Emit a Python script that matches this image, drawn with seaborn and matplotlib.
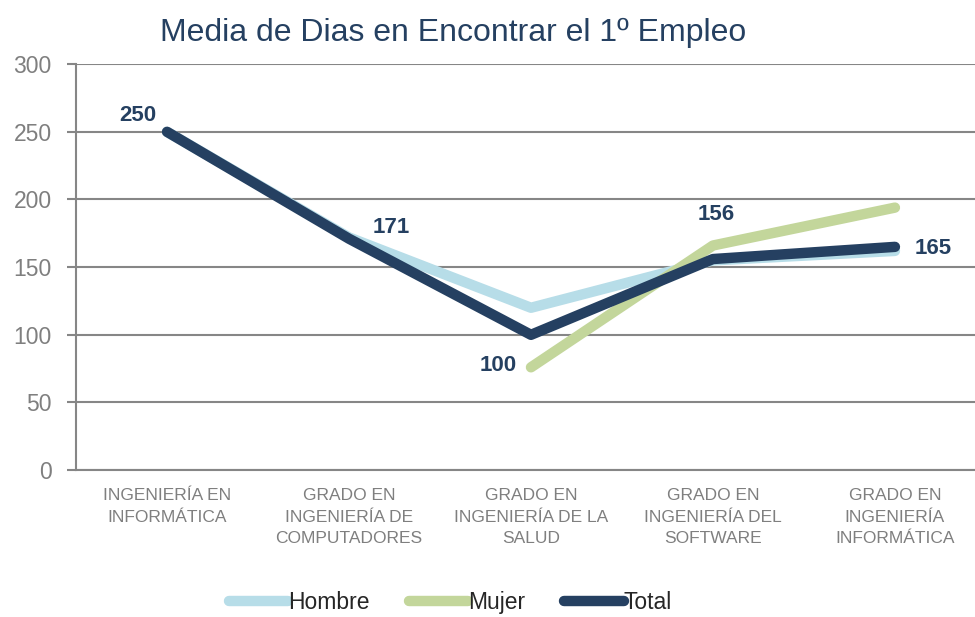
import pandas as pd
import numpy as np
import matplotlib
matplotlib.use("Agg")
import matplotlib.pyplot as plt
import seaborn as sns

# Datos
categorias = ["INGENIERÍA EN\nINFORMÁTICA", "GRADO EN\nINGENIERÍA DE\nCOMPUTADORES",
              "GRADO EN\nINGENIERÍA DE LA\nSALUD", "GRADO EN\nINGENIERÍA DEL\nSOFTWARE",
              "GRADO EN\nINGENIERÍA\nINFORMÁTICA"]
hombre = [250, 172, 120, 155, 162]
mujer = [np.nan, np.nan, 76, 166, 194]
total = [250, 171, 100, 156, 165]
series = ["Hombre", "Mujer", "Total"]
colores = ["#B7DDE8", "#C3D69B", "#254061"]

sns.set_theme(style="white")
plt.rcParams["font.family"] = ["Liberation Sans Narrow", "Liberation Sans", "DejaVu Sans"]

df = pd.DataFrame({
    "x": list(range(5)) * 3,
    "Dias": hombre + mujer + total,
    "Serie": [s for s in series for _ in range(5)],
})

fig = plt.figure(figsize=(9.75, 6.17), dpi=100)
ax = fig.add_axes([0.078, 0.238, 0.922, 0.658])

for y in range(0, 301, 50):
    ax.axhline(y, color="#868686", lw=1.5, zorder=0)

sns.lineplot(data=df, x="x", y="Dias", hue="Serie", palette=colores,
             linewidth=7.5, solid_capstyle="round", ax=ax, legend=False, sort=False)

# Etiquetas de datos del total
offsets = [(-8, 12, "right"), (17, 8, "left"), (-10, -22, "right"), (2, 32, "center"), (14, -1, "left")]
for i, (v, (dx, dy, ha)) in enumerate(zip(total, offsets)):
    ax.annotate(str(v), (i, v), xytext=(dx, dy), textcoords="offset points",
                ha=ha, va="center", fontsize=16, fontweight="bold", color="#254061")

ax.set_ylim(0, 300)
ax.set_xlim(-0.5, 4.44)
ax.set_yticks(range(0, 301, 50))
ax.set_xticks(range(5))
ax.set_xticklabels(categorias)
ax.set_xticks(np.arange(-0.5, 4.5, 1), minor=True)
ax.tick_params(axis="x", which="major", length=0, pad=13, labelsize=12.5, labelcolor="#7F7F7F")
ax.tick_params(axis="x", which="minor", length=6, color="#868686", width=1.5, direction="out")
ax.tick_params(axis="y", length=6.5, color="#868686", width=1.5, labelsize=16.5,
               labelcolor="#7F7F7F", left=True, pad=11)
for lbl in ax.get_xticklabels():
    lbl.set_linespacing(1.55)
ax.set_xlabel("")
ax.set_ylabel("")
for s in ["top", "right"]:
    ax.spines[s].set_visible(False)
ax.spines["left"].set_color("#868686")
ax.spines["left"].set_linewidth(1.5)
ax.spines["bottom"].set_color("#868686")
ax.spines["bottom"].set_linewidth(1.5)

fig.text(0.465, 0.947, "Media de Dias en Encontrar el 1º Empleo", ha="center", va="center",
         fontsize=23, color="#254061")

handles = [plt.Line2D([0], [0], color=c, lw=7.5, solid_capstyle="round") for c in colores]
fig.legend(handles, series, loc="center", bbox_to_anchor=(0.462, 0.024), ncol=3, frameon=False,
           handlelength=2.6, handletextpad=0.0, columnspacing=1.7, fontsize=16.5)

fig.savefig("out.png", dpi=100)
